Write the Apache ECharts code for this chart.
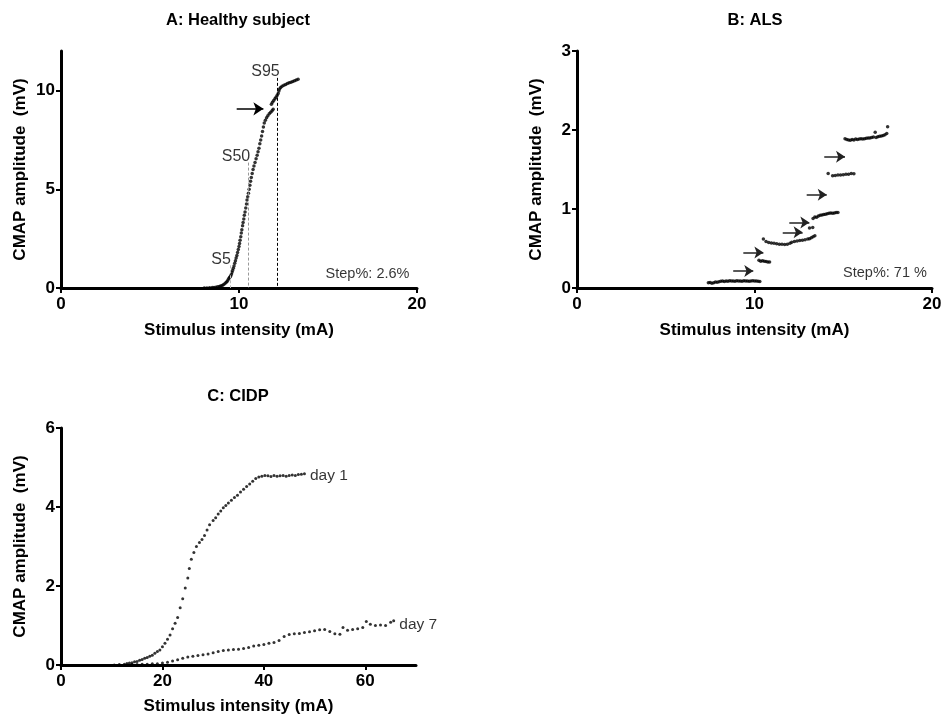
<!DOCTYPE html>
<html><head><meta charset="utf-8">
<script src="https://cdn.jsdelivr.net/npm/echarts@6/dist/echarts.min.js"></script>
<style>html,body{margin:0;padding:0;background:#fff}#c{width:943px;height:715px}</style>
</head><body><div id="c"></div>
<script>
// ---------- data ----------
const healthyPoints = [
[8.05,0.0],[8.2,0.0],[8.35,0.01],[8.5,0.02],[8.6,0.03],[8.7,0.04],[8.8,0.06],[8.9,0.08],[8.97,0.1],[9.05,0.13],
[9.12,0.17],[9.2,0.22],[9.27,0.28],[9.33,0.33],[9.38,0.4],[9.43,0.48],[9.48,0.55],[9.52,0.6],[9.57,0.68],[9.6,0.78],
[9.64,0.88],[9.68,1.0],[9.72,1.12],[9.76,1.25],[9.8,1.38],[9.84,1.52],[9.88,1.65],[9.92,1.8],[9.96,1.95],[10.0,2.1],
[10.03,2.25],[10.06,2.42],[10.1,2.6],[10.13,2.78],[10.16,2.95],[10.2,3.15],[10.23,3.32],[10.27,3.5],[10.3,3.68],[10.34,3.85],
[10.38,4.05],[10.42,4.25],[10.45,4.45],[10.49,4.62],[10.53,4.8],[10.57,5.0],[10.61,5.2],[10.65,5.4],[10.69,5.6],[10.74,5.8],
[10.79,6.0],[10.84,6.18],[10.9,6.35],[10.96,6.55],[11.02,6.72],[11.07,6.9],[11.12,7.08],[11.17,7.3],[11.22,7.5],[11.27,7.7],
[11.32,7.92],[11.37,8.15],[11.42,8.35],[11.48,8.5],[11.55,8.62],[11.62,8.72],[11.7,8.82],[11.78,8.9],[11.86,8.98],[11.92,9.05],
[11.82,9.3],[11.88,9.4],[11.95,9.5],[12.02,9.58],[12.08,9.66],[12.14,9.75],[12.2,9.85],[12.24,9.98],[12.28,10.08],[12.34,10.15],
[12.42,10.22],[12.52,10.27],[12.62,10.31],[12.72,10.35],[12.82,10.39],[12.92,10.42],[13.02,10.46],[13.12,10.5],[13.22,10.53],[13.32,10.57]
];
const alsPoints = [
[7.4,0.065],[7.5,0.07],[7.6,0.06],[7.7,0.068],[7.8,0.075],[7.9,0.072],[8.0,0.08],[8.1,0.085],[8.2,0.088],[8.3,0.082],
[8.4,0.09],[8.5,0.087],[8.6,0.092],[8.7,0.088],[8.8,0.09],[8.9,0.086],[9.0,0.092],[9.1,0.089],[9.2,0.09],[9.3,0.087],
[9.4,0.091],[9.5,0.088],[9.6,0.09],[9.7,0.086],[9.8,0.089],[9.9,0.092],[10.0,0.088],[10.1,0.09],[10.2,0.085],[10.3,0.083],
[10.25,0.35],[10.35,0.34],[10.45,0.345],[10.55,0.34],[10.65,0.335],[10.75,0.33],[10.85,0.33],
[10.5,0.62],[10.65,0.59],[10.8,0.575],[10.95,0.57],[11.1,0.565],[11.25,0.56],[11.4,0.555],[11.55,0.555],[11.7,0.55],[11.85,0.555],
[12.0,0.565],[12.1,0.58],[12.25,0.59],[12.4,0.595],[12.55,0.6],[12.7,0.605],[12.85,0.61],[13.0,0.62],[13.1,0.625],[13.2,0.635],
[13.3,0.65],[13.4,0.66],
[13.1,0.76],[13.28,0.765],
[13.3,0.88],[13.4,0.9],[13.5,0.895],[13.6,0.91],[13.7,0.92],[13.8,0.925],[13.9,0.93],[14.0,0.935],[14.1,0.94],[14.2,0.945],
[14.3,0.95],[14.4,0.945],[14.5,0.95],[14.6,0.955],[14.7,0.955],
[14.15,1.45],[14.4,1.42],[14.55,1.425],[14.7,1.43],[14.85,1.43],[15.0,1.435],[15.15,1.44],[15.3,1.44],[15.45,1.45],[15.6,1.445],
[15.1,1.89],[15.2,1.88],[15.3,1.875],[15.4,1.87],[15.5,1.88],[15.6,1.875],[15.7,1.885],[15.8,1.88],[15.9,1.885],[16.0,1.89],
[16.1,1.885],[16.2,1.89],[16.3,1.895],[16.4,1.9],[16.5,1.9],[16.6,1.905],[16.7,1.91],[16.8,1.97],[16.85,1.905],[16.95,1.915],
[17.05,1.92],[17.15,1.925],[17.25,1.93],[17.35,1.94],[17.45,1.955],[17.5,2.04]
];
const cidpDay1 = [
[10.5,0.0],[11.5,0.01],[12.5,0.02],[13.0,0.04],[13.5,0.05],[14.0,0.06],[14.5,0.08],[15.0,0.09],[15.5,0.12],[16.0,0.14],
[16.5,0.17],[17.0,0.19],[17.5,0.22],[18.0,0.25],[18.5,0.3],[19.0,0.34],[19.5,0.38],[20.0,0.46],[20.5,0.55],[21.0,0.65],
[21.5,0.76],[22.0,0.92],[22.5,1.06],[23.0,1.2],[23.5,1.45],[24.0,1.68],[24.5,1.95],[25.0,2.2],[25.3,2.44],[25.7,2.68],
[26.2,2.85],[26.7,3.0],[27.3,3.1],[27.8,3.18],[28.3,3.28],[28.8,3.42],[29.3,3.55],[30.0,3.66],[30.5,3.73],[31.0,3.82],
[31.5,3.9],[32.0,3.98],[32.5,4.04],[33.0,4.1],[33.6,4.17],[34.2,4.24],[34.8,4.3],[35.4,4.38],[36.0,4.45],[36.6,4.52],
[37.2,4.58],[37.8,4.65],[38.4,4.72],[39.0,4.76],[39.6,4.78],[40.2,4.8],[40.8,4.79],[41.4,4.77],[42.0,4.8],[42.6,4.78],
[43.2,4.79],[43.8,4.8],[44.4,4.78],[45.0,4.8],[45.6,4.81],[46.2,4.8],[46.8,4.82],[47.4,4.83],[48.0,4.84]
];
const cidpDay7 = [
[13.0,0.0],[14.0,0.01],[15.0,0.01],[16.0,0.02],[17.0,0.02],[18.0,0.03],[19.0,0.03],[20.0,0.05],[21.0,0.07],[22.0,0.1],
[23.0,0.13],[24.0,0.17],[25.0,0.2],[26.0,0.22],[27.0,0.24],[28.0,0.26],[29.0,0.28],[30.0,0.31],[31.0,0.34],[32.0,0.37],
[33.0,0.38],[34.0,0.39],[35.0,0.4],[36.0,0.42],[37.0,0.44],[38.0,0.48],[39.0,0.5],[40.0,0.52],[41.0,0.55],[42.0,0.57],
[43.0,0.62],[44.0,0.72],[45.0,0.77],[46.0,0.79],[47.0,0.8],[48.0,0.82],[49.0,0.84],[50.0,0.87],[51.0,0.89],[52.0,0.9],
[53.0,0.85],[54.0,0.79],[55.0,0.78],[55.6,0.95],[56.5,0.88],[57.5,0.9],[58.5,0.92],[59.5,0.95],[60.2,1.1],[61.0,1.03],
[62.0,1.0],[63.0,1.01],[64.0,1.0],[65.0,1.08],[65.6,1.12]
];
const ticksAX = [0,10,20], ticksAY = [0,5,10];
const ticksBX = [0,10,20], ticksBY = [0,1,2,3];
const ticksCX = [0,20,40,60], ticksCY = [0,2,4,6];
const labelsA = [[8.99,1.46,'S5'],[9.83,6.67,'S50'],[11.49,10.96,'S95']];
const stepA = [17.22,0.73,'Step%: 2.6%'];
const stepB = [17.35,0.186,'Step%: 71 %'];
const dayLabels = [[49.0,4.79,'day 1'],[66.6,1.01,'day 7']];
const refLinesA = [[9.5,1.15,'#bbb'],[10.52,6.35,'#999'],[12.15,10.64,'#000']];
const arrowsA = [[9.87,11.37,9.07]];
const arrowsB = [[8.8,9.93,0.215],[9.37,10.5,0.45],[11.59,12.71,0.705],[11.96,13.09,0.83],[12.94,14.07,1.18],[13.93,15.1,1.66]];

// ---------- chart ----------
const FONT = "'Liberation Sans', Arial, sans-serif";
const chart = echarts.init(document.getElementById('c'));
function xAx(gi, max, ticks) {
  return {type:'value', gridIndex:gi, min:0, max:max, interval:ticks[1]-ticks[0],
    name:'Stimulus intensity (mA)', nameLocation:'middle', nameGap: gi===2?33:34,
    nameTextStyle:{fontFamily:FONT,fontWeight:'bold',fontSize:17,color:'#000'},
    splitLine:{show:false},
    axisLine:{show:true,onZero:false,lineStyle:{color:'#000',width:3}},
    axisTick:{show:true,length:5,lineStyle:{color:'#000',width:2},customValues:ticks},
    axisLabel:{fontFamily:FONT,fontWeight:'bold',fontSize:17,color:'#000',margin:8,customValues:ticks}};
}
function yAx(gi, max, ticks) {
  return {type:'value', gridIndex:gi, min:0, max:max, interval:ticks[1]-ticks[0],
    name:'CMAP amplitude  (mV)', nameLocation:'middle', nameGap:32,
    nameTextStyle:{fontFamily:FONT,fontWeight:'bold',fontSize:17,color:'#000'},
    splitLine:{show:false},
    axisLine:{show:true,onZero:false,lineStyle:{color:'#000',width:3}},
    axisTick:{show:true,length:5,lineStyle:{color:'#000',width:2},customValues:ticks},
    axisLabel:{fontFamily:FONT,fontWeight:'bold',fontSize:17,color:'#000',margin:6,customValues:ticks}};
}
function dots(gi, data, name, size) {
  return {type:'scatter', name:name, xAxisIndex:gi, yAxisIndex:gi, data:data, symbol:'circle', symbolSize:size,
    itemStyle:{color:'#000'}, silent:true, animation:false, clip:false};
}
function textSeries(gi, items, pos, size) {
  return {type:'scatter', xAxisIndex:gi, yAxisIndex:gi, symbolSize:1, silent:true, animation:false, clip:false,
    itemStyle:{color:'rgba(0,0,0,0)'},
    data: items.map(t => ({value:[t[0],t[1]], name:t[2]})),
    label:{show:true, position:pos, distance:0, formatter:p=>p.name, fontFamily:FONT, fontSize:size, color:'#000'}};
}
function arrowLines(items, color) {
  return items.map(a => [{coord:[a[0],a[2]], lineStyle:{color:color,width:1.5,type:'solid'}},{coord:[a[1],a[2]]}]);
}
const refA = refLinesA.map(r => [{coord:[r[0],r[1]], lineStyle:{color:r[2],width:1,type:[3,2]}},{coord:[r[0],0]}]);

const sA = textSeries(0, labelsA.concat([stepA]), 'inside', 16);
sA.data[3].label = {fontSize:14.5};
sA.markLine = {silent:true, animation:false, symbol:['none','none'], label:{show:false}, data: refA};
const sAarrow = {type:'scatter', xAxisIndex:0, yAxisIndex:0, data:[], silent:true, animation:false,
  markLine:{silent:true, animation:false, symbol:['none','arrow'], symbolSize:10, label:{show:false}, data: arrowLines(arrowsA,'#000')}};
const sB = textSeries(1, [stepB], 'inside', 14.5);
sB.markLine = {silent:true, animation:false, symbol:['none','arrow'], symbolSize:9, label:{show:false}, data: arrowLines(arrowsB,'#222')};
const sC = textSeries(2, dayLabels, 'right', 15.5);

chart.setOption({
  animation:false,
  backgroundColor:'#fff',
  grid:[
    {left:61, top:51, width:356, height:237, outerBoundsMode:'none'},
    {left:577, top:51, width:355, height:237, outerBoundsMode:'none'},
    {left:61, top:428, width:355, height:237, outerBoundsMode:'none'}
  ],
  xAxis:[xAx(0,20,ticksAX), xAx(1,20,ticksBX), xAx(2,70,ticksCX)],
  yAxis:[yAx(0,12,ticksAY), yAx(1,3,ticksBY), yAx(2,6,ticksCY)],
  graphic:[
    {type:'text', x:238, y:20, style:{text:'A: Healthy subject', align:'center', verticalAlign:'middle', font:"bold 16.5px "+FONT, fill:'#000'}},
    {type:'text', x:755, y:20, style:{text:'B: ALS', align:'center', verticalAlign:'middle', font:"bold 16.5px "+FONT, fill:'#000'}},
    {type:'text', x:238, y:396, style:{text:'C: CIDP', align:'center', verticalAlign:'middle', font:"bold 16.5px "+FONT, fill:'#000'}}
  ],
  series:[
    dots(0, healthyPoints, 'Healthy', 3.5),
    dots(1, alsPoints, 'ALS', 3.5),
    dots(2, cidpDay1, 'day 1', 3),
    dots(2, cidpDay7, 'day 7', 3),
    sA, sAarrow, sB, sC
  ]
});
</script></body></html>
